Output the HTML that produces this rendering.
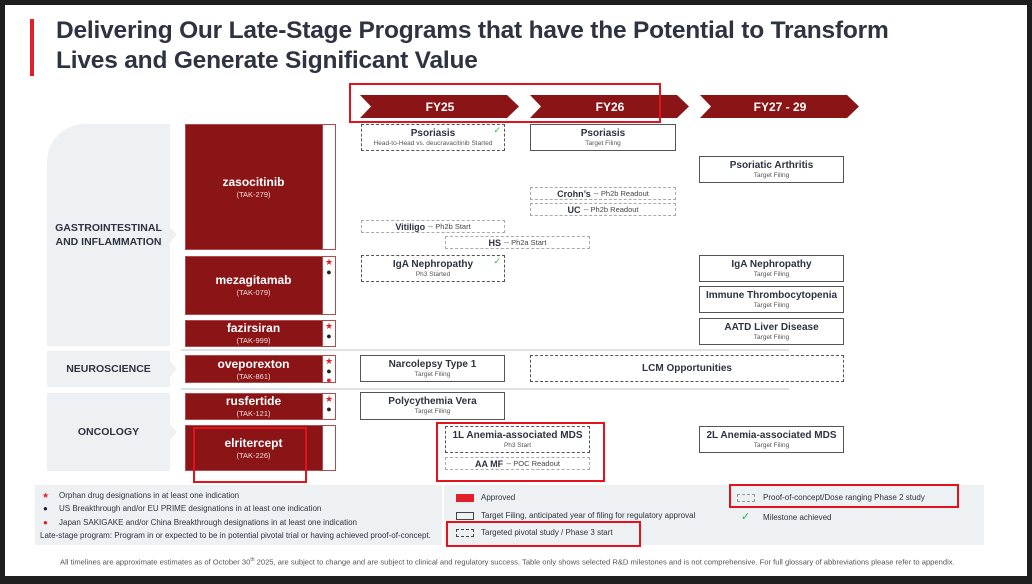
<!DOCTYPE html>
<html><head><meta charset="utf-8"><style>
*{margin:0;padding:0;box-sizing:border-box}
body{width:1032px;height:584px;background:#1e1e1e;position:relative;overflow:hidden;font-family:"Liberation Sans",sans-serif;color:#2b2f3a}
.page{position:absolute;left:5px;top:5px;width:1022px;height:571px;background:#fff}
.a{position:absolute}
.title{left:56px;top:16px;font-size:24.5px;font-weight:bold;line-height:30px;color:#2d3340;letter-spacing:-0.2px}
.bar{left:30px;top:19px;width:4px;height:57px;background:#e1202b}
.cat{position:absolute;background:#edf1f3;display:flex;align-items:center;justify-content:center;text-align:center;font-weight:bold;font-size:10.5px;color:#2d3340;line-height:14px}
.cat:after{content:"";position:absolute;right:-7px;top:50%;margin-top:-8px;border-left:7px solid #edf1f3;border-top:8px solid transparent;border-bottom:8px solid transparent}
.drug{position:absolute;left:185px;width:151px;background:#8b1416;border:1px solid #b54a4c;color:#fff;text-align:center;display:flex;flex-direction:column;justify-content:center;padding-right:14px}
.drug b{font-size:12px;line-height:14px}
.drug>span{font-size:7.5px;line-height:11px;color:#f0dcdc}
.drug i{position:absolute;right:0;top:0;bottom:0;width:13px;background:#fff;border-left:1px solid #b54a4c;font-style:normal;display:flex;flex-direction:column;align-items:center;padding-top:1px;font-size:9px;line-height:9.5px}
.drug i .st{color:#e1202b}.drug i .dk{color:#222}.drug i .rd{color:#e1202b}
.box{position:absolute;border:1.5px solid #555;background:#fff;text-align:center;display:flex;flex-direction:column;justify-content:center}
.box b{font-size:10px;line-height:12px;color:#2d3340}
.box span{font-size:6.5px;line-height:8px;color:#555}
.dash{border:1.5px dashed #555}
.lt{border:1px dashed #aaa;flex-direction:row;align-items:center;justify-content:center;font-size:9px}
.lt b{font-size:9px}
.lt em{font-style:normal;font-size:7.5px;color:#444;margin-left:3px}
.chk{position:absolute;right:3px;top:0;color:#2fb84a;font-size:9px}
.sep{position:absolute;left:181px;width:608px;height:2px;background:#dde1e4}
.red{position:absolute;border:2.5px solid #e3121c}
.leg{font-size:8px;color:#2d3340;position:absolute;white-space:nowrap}
</style></head><body>
<div class="page"></div>
<div class="a bar"></div>
<div class="a title">Delivering Our Late-Stage Programs that have the Potential to Transform<br>Lives and Generate Significant Value</div>

<svg class="a" style="left:0;top:0" width="1032" height="584">
<polygon points="360,95 507,95 519,106.5 507,118 360,118 371,106.5" fill="#8b1416"/>
<polygon points="530,95 677,95 689,106.5 677,118 530,118 541,106.5" fill="#8b1416"/>
<polygon points="700,95 847,95 859,106.5 847,118 700,118 711,106.5" fill="#8b1416"/>
<text x="440" y="111" fill="#fff" font-size="12" font-weight="bold" text-anchor="middle" font-family="Liberation Sans">FY25</text>
<text x="610" y="111" fill="#fff" font-size="12" font-weight="bold" text-anchor="middle" font-family="Liberation Sans">FY26</text>
<text x="780" y="111" fill="#fff" font-size="12" font-weight="bold" text-anchor="middle" font-family="Liberation Sans">FY27 - 29</text>
<circle cx="159" cy="133" r="4.5" fill="none" stroke="#e1202b" stroke-width="1"/>
<text x="159" y="361" fill="#e1202b" font-size="10" text-anchor="middle">✿</text>
<text x="159" y="404" fill="#e1202b" font-size="10" text-anchor="middle">✣</text>
</svg>

<div class="cat" style="left:47px;top:124px;width:123px;height:222px;border-top-left-radius:38px">GASTROINTESTINAL<br>AND INFLAMMATION</div>
<div class="cat" style="left:47px;top:351px;width:123px;height:36px">NEUROSCIENCE</div>
<div class="cat" style="left:47px;top:393px;width:123px;height:78px">ONCOLOGY</div>

<div class="sep" style="top:349px"></div>
<div class="sep" style="top:388px"></div>

<div class="drug" style="top:124px;height:126px"><b>zasocitinib</b><span>(TAK-279)</span><i></i></div>
<div class="drug" style="top:256px;height:59px"><b>mezagitamab</b><span>(TAK-079)</span><i><span class="st">★</span><span class="dk">●</span></i></div>
<div class="drug" style="top:320px;height:27px"><b>fazirsiran</b><span>(TAK-999)</span><i><span class="st">★</span><span class="dk">●</span></i></div>
<div class="drug" style="top:355px;height:28px"><b>oveporexton</b><span>(TAK-861)</span><i><span class="st">★</span><span class="dk">●</span><span class="rd">●</span></i></div>
<div class="drug" style="top:393px;height:27px"><b>rusfertide</b><span>(TAK-121)</span><i><span class="st">★</span><span class="dk">●</span></i></div>
<div class="drug" style="top:425px;height:46px"><b>elritercept</b><span>(TAK-226)</span><i></i></div>

<div class="box dash" style="left:361px;top:124px;width:144px;height:27px"><b>Psoriasis</b><span>Head-to-Head vs. deucravacitinib Started</span><div class="chk">✓</div></div>
<div class="box" style="left:530px;top:124px;width:146px;height:27px"><b>Psoriasis</b><span>Target Filing</span></div>
<div class="box" style="left:699px;top:156px;width:145px;height:27px"><b>Psoriatic Arthritis</b><span>Target Filing</span></div>
<div class="box lt" style="left:530px;top:187px;width:146px;height:13px"><b>Crohn’s</b><em>-- Ph2b Readout</em></div>
<div class="box lt" style="left:530px;top:203px;width:146px;height:13px"><b>UC</b><em>-- Ph2b Readout</em></div>
<div class="box lt" style="left:361px;top:220px;width:144px;height:13px"><b>Vitiligo</b><em>-- Ph2b Start</em></div>
<div class="box lt" style="left:445px;top:236px;width:145px;height:13px"><b>HS</b><em>-- Ph2a Start</em></div>
<div class="box dash" style="left:361px;top:255px;width:144px;height:27px"><b>IgA Nephropathy</b><span>Ph3 Started</span><div class="chk">✓</div></div>
<div class="box" style="left:699px;top:255px;width:145px;height:27px"><b>IgA Nephropathy</b><span>Target Filing</span></div>
<div class="box" style="left:699px;top:286px;width:145px;height:27px"><b>Immune Thrombocytopenia</b><span>Target Filing</span></div>
<div class="box" style="left:699px;top:318px;width:145px;height:27px"><b>AATD Liver Disease</b><span>Target Filing</span></div>
<div class="box" style="left:360px;top:355px;width:145px;height:27px"><b>Narcolepsy Type 1</b><span>Target Filing</span></div>
<div class="box dash" style="left:530px;top:355px;width:314px;height:27px"><b>LCM Opportunities</b></div>
<div class="box" style="left:360px;top:392px;width:145px;height:28px"><b>Polycythemia Vera</b><span>Target Filing</span></div>
<div class="box dash" style="left:445px;top:426px;width:145px;height:27px"><b>1L Anemia-associated MDS</b><span>Ph3 Start</span></div>
<div class="box lt" style="left:445px;top:457px;width:145px;height:13px"><b>AA MF</b><em>-- POC Readout</em></div>
<div class="box" style="left:699px;top:426px;width:145px;height:27px"><b>2L Anemia-associated MDS</b><span>Target Filing</span></div>

<div class="a" style="left:35px;top:485px;width:407px;height:60px;background:#edf1f3"></div>
<div class="a" style="left:444px;top:485px;width:540px;height:60px;background:#edf1f3"></div>
<div class="leg" style="left:42px;top:491px;color:#e1202b">★</div><div class="leg" style="left:59px;top:491px">Orphan drug designations in at least one indication</div>
<div class="leg" style="left:43px;top:504px;color:#222">●</div><div class="leg" style="left:59px;top:504px">US Breakthrough and/or EU PRIME designations in at least one indication</div>
<div class="leg" style="left:43px;top:518px;color:#e1202b">●</div><div class="leg" style="left:59px;top:518px">Japan SAKIGAKE and/or China Breakthrough designations in at least one indication</div>
<div class="leg" style="left:40px;top:531px">Late-stage program: Program in or expected to be in potential pivotal trial or having achieved proof-of-concept.</div>
<div class="a" style="left:456px;top:494px;width:18px;height:8px;background:#e1202b"></div><div class="leg" style="left:481px;top:493px">Approved</div>
<div class="a" style="left:456px;top:512px;width:18px;height:8px;border:1px solid #444"></div><div class="leg" style="left:481px;top:511px">Target Filing, anticipated year of filing for regulatory approval</div>
<div class="a" style="left:456px;top:529px;width:18px;height:8px;border:1.5px dashed #444"></div><div class="leg" style="left:481px;top:528px">Targeted pivotal study / Phase 3 start</div>
<div class="a" style="left:737px;top:494px;width:18px;height:8px;border:1px dashed #999"></div><div class="leg" style="left:763px;top:493px">Proof-of-concept/Dose ranging Phase 2 study</div>
<div class="leg" style="left:741px;top:510px;color:#2fb84a;font-size:11px">✓</div><div class="leg" style="left:763px;top:513px">Milestone achieved</div>
<div class="leg" style="left:60px;top:557px;font-size:7.6px;color:#555">All timelines are approximate estimates as of October 30<sup style="font-size:5px">th</sup> 2025, are subject to change and are subject to clinical and regulatory success. Table only shows selected R&amp;D milestones and is not comprehensive. For full glossary of abbreviations please refer to appendix.</div>

<div class="red" style="left:349px;top:83px;width:312px;height:40px"></div>
<div class="red" style="left:193px;top:427px;width:114px;height:56px"></div>
<div class="red" style="left:436px;top:422px;width:169px;height:60px"></div>
<div class="red" style="left:446px;top:521px;width:195px;height:26px"></div>
<div class="red" style="left:729px;top:484px;width:230px;height:24px"></div>
</body></html>
